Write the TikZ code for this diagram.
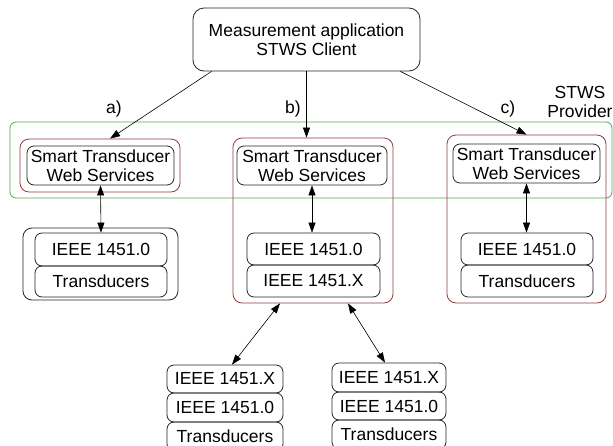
\documentclass[tikz,border=0pt]{standalone}
\usepackage{fontspec}
\setmainfont{Liberation Sans}
\usetikzlibrary{arrows.meta,calc}
\definecolor{provgreen}{RGB}{95,165,85}
\definecolor{redbox}{RGB}{150,60,60}
\tikzset{
  x=1pt, y=-1pt,
  txt/.style={font=\fontsize{17.5}{19.5}\selectfont, align=center, inner sep=0pt},
  blk/.style={draw=black!85, line width=0.8pt, rounded corners=7pt, txt},
  redb/.style={draw=redbox, line width=0.8pt, rounded corners=9pt},
  outb/.style={draw=black!85, line width=0.8pt, rounded corners=9pt},
  grn/.style={draw=provgreen, line width=0.8pt, rounded corners=6pt},
  arr/.style={line width=0.6pt, -{Triangle[length=10pt,width=7pt]}},
  darr/.style={line width=0.6pt, {Triangle[length=10pt,width=7pt]}-{Triangle[length=10pt,width=7pt]}},
  lbl/.style={txt},
}
\begin{document}
\begin{tikzpicture}
\useasboundingbox[fill=white] (0,0) rectangle (613,445);
% client
\node[blk, minimum width=227pt, minimum height=63pt, rounded corners=11pt] (top) at (306.5,39.5) {Measurement application\\STWS Client};
% provider frame
\node[grn, minimum width=602pt, minimum height=76pt] (prov) at (311,160) {};
\node[lbl] (provlbl) at (580,102) {STWS\\Provider};
% red outer boxes
\node[redb, minimum width=160pt, minimum height=53pt] (ra) at (100,165.5) {};
\node[redb, minimum width=160pt, minimum height=165pt] (rb) at (313,220.5) {};
\node[redb, minimum width=159pt, minimum height=168pt] (rc) at (526.5,219) {};
% STWS boxes
\node[blk, minimum width=147pt, minimum height=39pt] (sa) at (100.5,165.5) {Smart Transducer\\Web Services};
\node[blk, minimum width=150pt, minimum height=39pt] (sb) at (312,165.5) {Smart Transducer\\Web Services};
\node[blk, minimum width=147pt, minimum height=39pt] (sc) at (526.5,163.5) {Smart Transducer\\Web Services};
% a) lower
\node[outb, minimum width=155pt, minimum height=72pt] (oa) at (100.5,264) {};
\node[blk, minimum width=132pt, minimum height=33pt] (ia1) at (101,249.5) {IEEE 1451.0};
\node[blk, minimum width=132pt, minimum height=31pt] (ia2) at (101,281.5) {Transducers};
% b) lower
\node[blk, minimum width=133pt, minimum height=32pt] (ib1) at (313.5,249) {IEEE 1451.0};
\node[blk, minimum width=133pt, minimum height=32pt] (ib2) at (313.5,281) {IEEE 1451.X};
% c) lower
\node[blk, minimum width=132pt, minimum height=32pt] (ic1) at (527,249) {IEEE 1451.0};
\node[blk, minimum width=132pt, minimum height=32pt] (ic2) at (527,281) {Transducers};
% bottom stacks
\node[blk, minimum width=116pt, minimum height=28pt] (l1) at (225,379) {IEEE 1451.X};
\node[blk, minimum width=116pt, minimum height=29pt] (l2) at (225,407.5) {IEEE 1451.0};
\node[blk, minimum width=116pt, minimum height=29pt] (l3) at (225,436.5) {Transducers};
\node[blk, minimum width=114pt, minimum height=29pt] (r1) at (389,377.5) {IEEE 1451.X};
\node[blk, minimum width=114pt, minimum height=28pt] (r2) at (389,406) {IEEE 1451.0};
\node[blk, minimum width=114pt, minimum height=29pt] (r3) at (389,434.5) {Transducers};
% labels
\node[lbl] (la) at (114,109) {a)};
\node[lbl] (lb) at (293,109) {b)};
\node[lbl] (lc) at (508,109) {c)};
% connectors
\draw[arr] ([xshift=19pt]top.south west) -- ([xshift=10pt]ra.north);
\draw[arr] (top.south) -- (top.south |- rb.north);
\draw[arr] ([xshift=-20pt]top.south east) -- (rc.north);
\draw[darr] (sa.south) -- (ia1.north);
\draw[darr] (sb.south) -- (sb.south |- ib1.north);
\draw[darr] (sc.south) -- (sc.south |- ic1.north);
\draw[darr] ([xshift=-33pt]rb.south) -- ([xshift=7pt]l1.north);
\draw[darr] ([xshift=35pt]rb.south) -- ([xshift=-4pt]r1.north);
\end{tikzpicture}
\end{document}
